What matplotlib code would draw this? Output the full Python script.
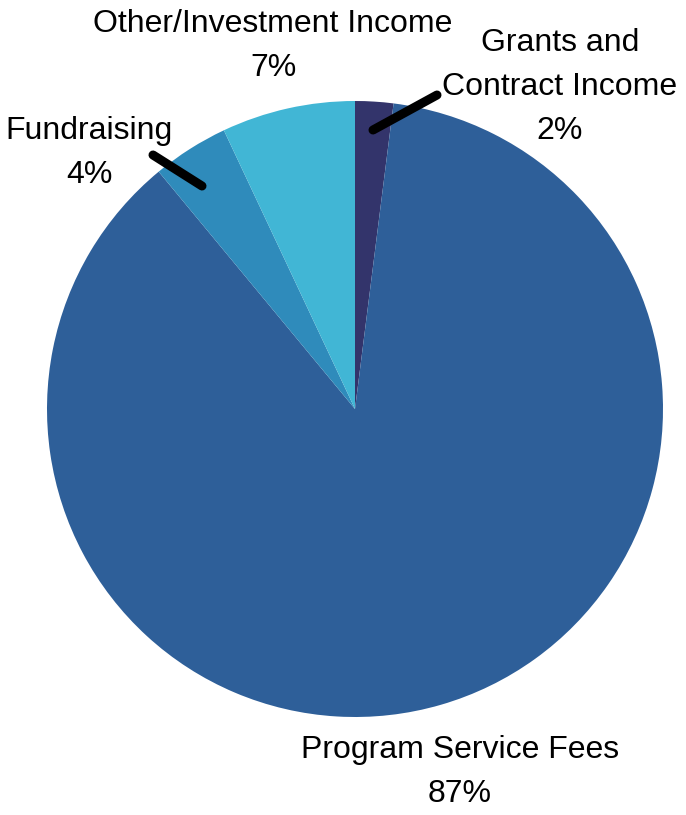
import matplotlib
matplotlib.use("Agg")
import matplotlib.pyplot as plt

categories = ["Grants and\nContract Income", "Program Service Fees", "Fundraising", "Other/Investment Income"]
values = [2, 87, 4, 7]
pct_labels = ["2%", "87%", "4%", "7%"]
colors = ["#33346B", "#2E5F99", "#2F8BBB", "#41B6D5"]

W, H = 686, 815
fig = plt.figure(figsize=(W / 100, H / 100), dpi=100)
ax = fig.add_axes([0, 0, 1, 1])

cx, cy, r = 355, H - 409, 308
ax.pie(values, colors=colors, startangle=90, counterclock=False,
       center=(cx, cy), radius=r, wedgeprops=dict(linewidth=0), frame=True)
ax.set_xlim(0, W)
ax.set_ylim(0, H)
ax.set_aspect("equal")
ax.axis("off")

font = dict(family=["Liberation Sans", "DejaVu Sans"], fontsize=23, color="black",
            ha="center", va="baseline")

def label(x, baseline_px, lines):
    for i, t in enumerate(lines):
        ax.text(x, H - (baseline_px + 44 * i), t, **font)

label(560, 51, categories[0].split("\n") + [pct_labels[0]])
label(460, 758, [categories[1], pct_labels[1]])
label(89, 139, [categories[2], pct_labels[2]])
label(273, 32, [categories[3], pct_labels[3]])

# leader lines
ax.plot([373, 437], [H - 130, H - 95], color="black", lw=6.5, solid_capstyle="round")
ax.plot([153, 202], [H - 155, H - 186], color="black", lw=6.5, solid_capstyle="round")

fig.savefig("out.png", dpi=100)
